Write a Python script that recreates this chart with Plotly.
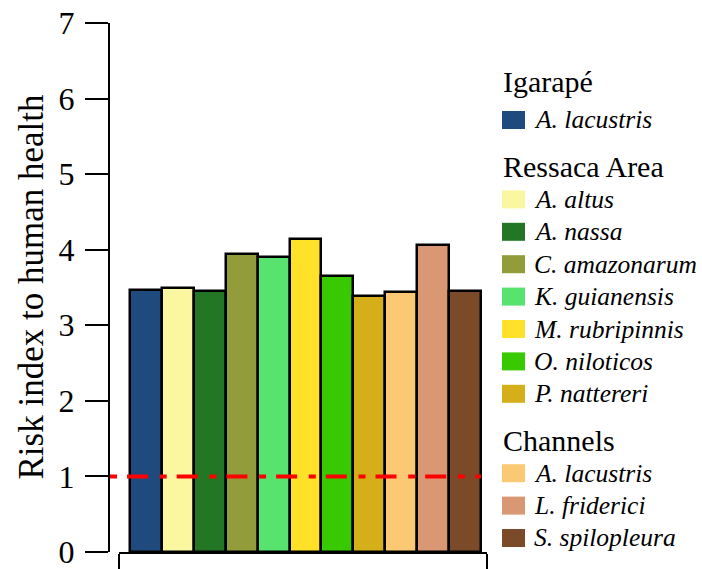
import plotly.graph_objects as go

# ---------------- data ----------------
species = ["A. lacustris", "A. altus", "A. nassa", "C. amazonarum", "K. guianensis",
           "M. rubripinnis", "O. niloticos", "P. nattereri",
           "A. lacustris", "L. friderici", "S. spilopleura"]
habitat = ["Igarapé"] + ["Ressaca Area"] * 7 + ["Channels"] * 3
risk = [3.47, 3.49, 3.46, 3.94, 3.91, 4.14, 3.65, 3.39, 3.44, 4.06, 3.45]
colors = ["#1E4A7E", "#FBF7A1", "#237623", "#939C3B", "#58E36E", "#FFE129",
          "#39C900", "#D5AF1A", "#FBC973", "#D99873", "#7B4A29"]
groups = ["Igarapé", "Ressaca Area", "Channels"]
threshold = 1
y_ticks = [0, 1, 2, 3, 4, 5, 6, 7]
y_title = "Risk index to human health"

# ---------------- layout geometry ----------------
W, H = 702, 569
ML, MR, MT, MB = 110, 215, 23, 17
PW, PH = W - ML - MR, H - MT - MB
n = len(risk)
px_per_bar = 31.9
x_min = -0.5 - 20 / px_per_bar
x_max = x_min + PW / px_per_bar

def px_x(p):
    return (p - ML) / PW

def px_y(p):
    return (H - MB - p) / PH

SERIF = "Liberation Serif"

fig = go.Figure()
fig.add_trace(go.Bar(
    x=list(range(n)), y=risk, width=1,
    marker=dict(color=colors, line=dict(color="black", width=2.5)),
    text=species, hovertemplate="%{text}<br>%{y}<extra></extra>",
    textposition="none", showlegend=False,
))
fig.add_trace(go.Scatter(
    x=[x_min, n - 0.5], y=[threshold, threshold], mode="lines",
    line=dict(color="#FF0000", width=4, dash="7px,10px,21px,11.7px"),
    hoverinfo="skip", showlegend=False,
))
# empty trace so the bottom axis line (xaxis2) is drawn
fig.add_trace(go.Scatter(x=[None], y=[None], xaxis="x2", yaxis="y",
                         showlegend=False, hoverinfo="skip"))

# ---------------- legend (annotations + swatches) ----------------
annotations = []
shapes = []
LEG_X = 502
cursor = 82
for k, g in enumerate(groups):
    annotations.append(dict(
        x=px_x(501), y=px_y(cursor), xref="paper", yref="paper",
        text=g, showarrow=False, xanchor="left", yanchor="middle",
        font=dict(family=SERIF, size=30, color="black"),
    ))
    cursor += 38 if k == 0 else 33
    idx = [i for i, h in enumerate(habitat) if h == g]
    for j, i in enumerate(idx):
        shapes.append(dict(
            type="rect", xref="paper", yref="paper",
            x0=px_x(LEG_X), x1=px_x(LEG_X + 23),
            y0=px_y(cursor - 9), y1=px_y(cursor + 9),
            fillcolor=colors[i], line=dict(width=0),
        ))
        annotations.append(dict(
            x=px_x(532), y=px_y(cursor), xref="paper", yref="paper",
            text="<i>%s</i>" % species[i], showarrow=False,
            xanchor="left", yanchor="middle",
            font=dict(family=SERIF, size=25.5, color="black"),
        ))
        if j < len(idx) - 1:
            cursor += 32.4
    cursor += 32.4 + 14

# y-axis title
annotations.append(dict(
    x=px_x(31), y=0.5, xref="paper", yref="paper", text=y_title,
    textangle=-90, showarrow=False, xanchor="center", yanchor="middle",
    font=dict(family=SERIF, size=35, color="black"),
))

fig.update_layout(
    width=W, height=H,
    margin=dict(l=ML, r=MR, t=MT, b=MB),
    paper_bgcolor="white", plot_bgcolor="rgba(0,0,0,0)",
    bargap=0,
    showlegend=False,
    xaxis=dict(domain=[0, 1], range=[x_min, x_max], visible=False,
               showgrid=False, zeroline=False),
    xaxis2=dict(domain=[px_x(119.3), 1], range=[0, 1], anchor="y",
                showline=True, linecolor="black", linewidth=2,
                ticks="outside", tickvals=[0, 1], ticklen=20, tickwidth=2,
                tickcolor="black", showticklabels=False, showgrid=False,
                zeroline=False, automargin=False),
    yaxis=dict(range=[0, 7], tickvals=y_ticks, showline=True, linecolor="black",
               linewidth=2, ticks="outside", ticklen=23, tickwidth=2,
               tickcolor="black", showgrid=False, zeroline=False,
               tickfont=dict(family=SERIF, size=32, color="black"),
               ticklabelstandoff=4, ticklabeloverflow="allow",
               automargin=False),
    annotations=annotations,
    shapes=shapes,
)

fig.write_html("out.html", config={"displayModeBar": False},
               post_script="document.body.style.margin='0px';")
